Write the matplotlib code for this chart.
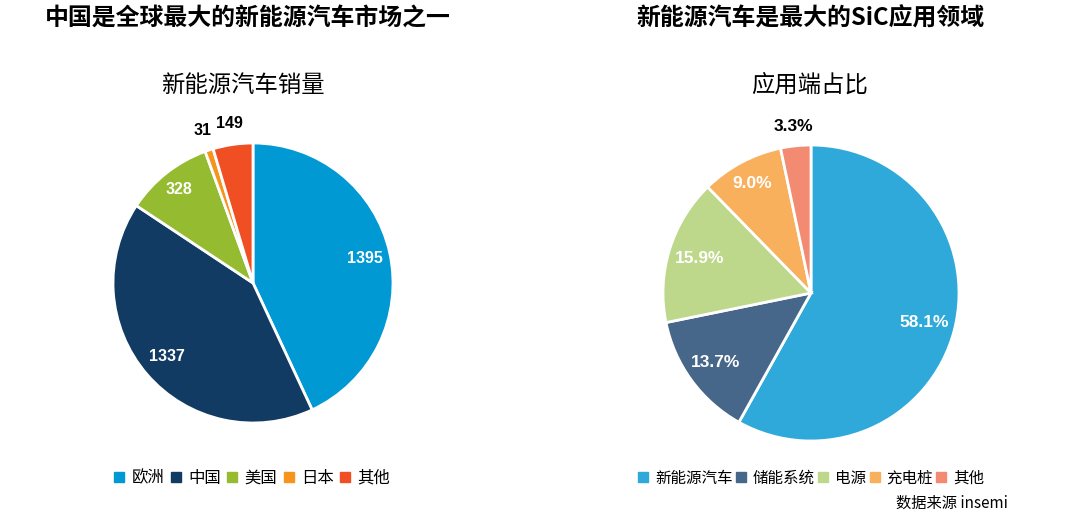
import numpy as np
import matplotlib
matplotlib.use("Agg")
import matplotlib.pyplot as plt
from matplotlib.lines import Line2D

plt.rcParams['font.family'] = ['Noto Sans CJK SC', 'DejaVu Sans']

# left chart data
sales_labels = ['欧洲', '中国', '美国', '日本', '其他']
sales_values = [1395, 1337, 328, 31, 149]
sales_colors = ['#0099d4', '#123b63', '#95bc30', '#f7941d', '#f04e23']

# right chart data
app_labels = ['新能源汽车', '储能系统', '电源', '充电桩', '其他']
app_values = [58.1, 13.7, 15.9, 9.0, 3.3]
app_colors = ['#2ea9da', '#46668a', '#bdd88a', '#f8b05d', '#f28b71']

W, H = 1080, 521


def px_axes(fig, left, top, size):
    return fig.add_axes([left / W, (H - top - size) / H, size / W, size / H])


def draw_pie(ax, values, colors, texts, dists, fontsize):
    wedges, _ = ax.pie(values, colors=colors, startangle=90, counterclock=False,
                       wedgeprops=dict(edgecolor='white', linewidth=2))
    for w, t, d in zip(wedges, texts, dists):
        ang = np.deg2rad((w.theta1 + w.theta2) / 2)
        col = 'white' if d < 1 else 'black'
        ax.text(d * np.cos(ang), d * np.sin(ang), t, ha='center', va='center',
                color=col, fontsize=fontsize, fontweight='bold',
                family=['Liberation Sans', 'DejaVu Sans'])
    ax.set_xlim(-1, 1)
    ax.set_ylim(-1, 1)
    ax.set_aspect('equal')
    ax.axis('off')


def add_legend(fig, labels, colors, cx, cy, fs, colsp):
    handles = [Line2D([], [], marker='s', linestyle='none', markersize=7,
                      markerfacecolor=c, markeredgecolor=c) for c in colors]
    fig.legend(handles, labels, loc='center', bbox_to_anchor=(cx / W, 1 - cy / H),
               ncol=len(labels), frameon=False, fontsize=fs, handlelength=0.7,
               handletextpad=0.4, columnspacing=colsp)


fig = plt.figure(figsize=(W / 100, H / 100), dpi=100)

ax1 = px_axes(fig, 113, 143, 280)
draw_pie(ax1, sales_values, sales_colors, [str(v) for v in sales_values],
         [0.82, 0.81, 0.85, 1.15, 1.15], 11.5)

ax2 = px_axes(fig, 663, 145, 296)
draw_pie(ax2, app_values, app_colors, ['%.1f%%' % v for v in app_values],
         [0.79, 0.8, 0.79, 0.84, 1.13], 12.5)

fig.text(248 / W, 1 - 19 / H, '中国是全球最大的新能源汽车市场之一', ha='center', va='center',
         fontsize=17.2, fontweight='bold')
fig.text(810 / W, 1 - 19 / H, '新能源汽车是最大的SiC应用领域', ha='center', va='center',
         fontsize=17.2, fontweight='bold')
fig.text(243 / W, 1 - 85 / H, '新能源汽车销量', ha='center', va='center', fontsize=16.8)
fig.text(810 / W, 1 - 85 / H, '应用端占比', ha='center', va='center', fontsize=16.8)

add_legend(fig, sales_labels, sales_colors, 252, 478, 11.8, 0.35)
add_legend(fig, app_labels, app_colors, 811, 478, 11.2, 0.2)

fig.text(1008 / W, 1 - 503 / H, '数据来源 insemi', ha='right', va='center', fontsize=11)

fig.savefig('out.png', dpi=100, facecolor='white')
